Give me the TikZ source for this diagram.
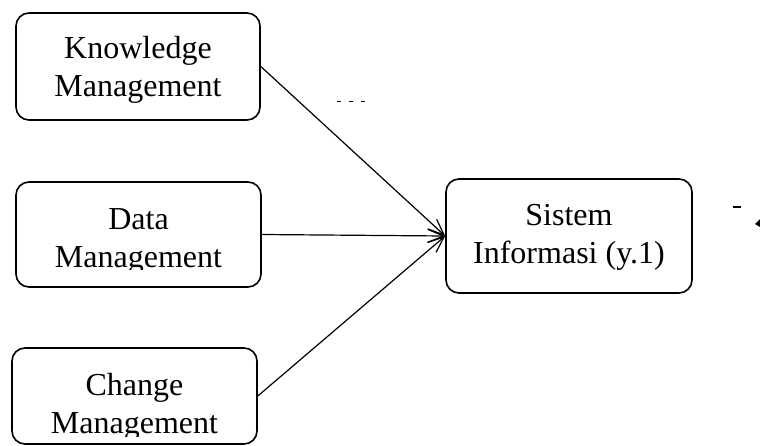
\documentclass[tikz,border=0pt]{standalone}
\usepackage{fontspec}
\setmainfont{Liberation Serif}
\usetikzlibrary{arrows.meta}
\tikzset{
  mbox/.style={draw, line width=1.6pt, rounded corners=13pt, inner sep=0pt},
  mtext/.style={align=center, inner sep=0pt, font=\fontsize{32}{38}\selectfont},
  flow/.style={line width=1.2pt, -{Straight Barb[length=16pt,width=13pt,line width=1.2pt]}},
}
\begin{document}
\begin{tikzpicture}[x=1pt,y=1pt,yscale=-1,xscale=1]
\useasboundingbox (0,0) rectangle (760,445);

%Shape: Rounded Rect [id:km]
\node [mbox, minimum width=244pt, minimum height=107pt] (km) at (138,66.5) {};
%Shape: Rounded Rect [id:dm]
\node [mbox, minimum width=245pt, minimum height=105pt] (dm) at (138.5,234.5) {};
%Shape: Rounded Rect [id:cm]
\node [mbox, minimum width=245pt, minimum height=96pt] (cm) at (134.5,396) {};
%Shape: Rounded Rect [id:si]
\node [mbox, minimum width=246pt, minimum height=114pt] (si) at (569,236) {};

% Text Node
\node [mtext] (kmtext) at ([yshift=3.5pt]km.center) {Knowledge\\Management};
% Text Node
\begin{scope}
\clip (0,170) rectangle (280,269);
\node [mtext] (dmtext) at ([yshift=7pt]dm.center) {Data\\Management};
\end{scope}
% Text Node
\begin{scope}
\clip (0,340) rectangle (280,436);
\node [mtext] (cmtext) at ([yshift=10.5pt]cm.center) {Change\\Management};
\end{scope}
% Text Node
\node [mtext] (sitext) at ([yshift=1pt]si.center) {Sistem\\Informasi (y.1)};

%Straight Lines [id:arrows]
\draw [flow] (km.east) -- (si.west);
\draw [flow] (dm.east) -- (si.west);
\draw [flow] (cm.east) -- (si.west);

%Fragments
\draw [line width=0.8pt, dash pattern=on 4pt off 8pt] (337,101.5) -- (367,101.5);
\draw [line width=1.2pt] (733,207) -- (741,207);
\fill (760,219) -- (755,224) -- (760,227) -- cycle;

\end{tikzpicture}
\end{document}
